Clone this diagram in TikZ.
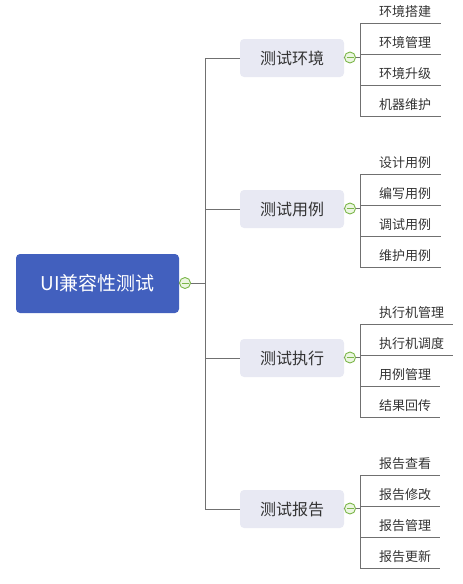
\documentclass[tikz,border=0pt]{standalone}
\usepackage{fontspec}
\setmainfont{Noto Sans CJK SC}
\definecolor{rootblue}{RGB}{66,96,190}
\definecolor{subfill}{RGB}{232,233,243}
\definecolor{linegray}{RGB}{112,112,112}
\definecolor{txt}{RGB}{51,51,51}
\definecolor{knobline}{RGB}{122,182,72}
\definecolor{knobfill}{RGB}{236,246,226}
\tikzset{
  rootbox/.style={fill=rootblue, rounded corners=4pt, text=white, font=\fontsize{19}{21}\selectfont,
    minimum width=163pt, minimum height=59pt, inner sep=0pt},
  subbox/.style={fill=subfill, rounded corners=4pt, text=txt, font=\fontsize{16}{18}\selectfont,
    minimum width=104pt, minimum height=38pt, inner sep=0pt},
  leaf/.style={anchor=south west, text=txt, font=\fontsize{13}{15}\selectfont,
    minimum height=22pt, inner sep=0pt},
  knob/.style={circle, draw=knobline, fill=knobfill, line width=0.9pt, minimum size=11pt, inner sep=0pt,
    path picture={\draw[knobline, line width=0.9pt] ([xshift=-3.5pt]path picture bounding box.center) -- ([xshift=3.5pt]path picture bounding box.center);}},
  conn/.style={draw=linegray, line width=0.8pt},
}
\newcommand{\leaftext}[2]{\makebox[#1pt][l]{\hspace{19pt}#2}}
\begin{document}
\begin{tikzpicture}[x=1pt,y=-1pt]
\useasboundingbox (0,0) rectangle (463,584);
% root
\node[rootbox] (root) at (97.5,283.5) {UI兼容性测试};
\node[knob] (rk) at (185,283) {};
\coordinate (trunk) at (205,283);
% level 1
\node[subbox] (s1) at (292,58) {测试环境};
\node[subbox] (s2) at (292,209) {测试用例};
\node[subbox] (s3) at (292,358) {测试执行};
\node[subbox] (s4) at (292,509) {测试报告};
\node[knob] (k1) at (350,57.5) {};
\node[knob] (k2) at (350,208.5) {};
\node[knob] (k3) at (350,357.5) {};
\node[knob] (k4) at (350,508.5) {};
% trunk connectors
\draw[conn] (root.east) -- (rk.west);
\draw[conn] (rk.east) -- (trunk);
\draw[conn] (trunk |- s1.west) -- (trunk |- s4.west);
\foreach \s in {s1,s2,s3,s4} {\draw[conn] (trunk |- \s.west) -- (\s.west);}
\draw[conn] (s1.east) -- (k1.west);
\draw[conn] (s2.east) -- (k2.west);
\draw[conn] (s3.east) -- (k3.west);
\draw[conn] (s4.east) -- (k4.west);
% leaves group 1
\node[leaf] (a1) at (360,23) {\leaftext{81}{环境搭建}};
\node[leaf] (a2) at (360,54) {\leaftext{81}{环境管理}};
\node[leaf] (a3) at (360,85) {\leaftext{81}{环境升级}};
\node[leaf] (a4) at (360,116) {\leaftext{81}{机器维护}};
% leaves group 2
\node[leaf] (b1) at (360,174) {\leaftext{81}{设计用例}};
\node[leaf] (b2) at (360,205) {\leaftext{81}{编写用例}};
\node[leaf] (b3) at (360,236) {\leaftext{81}{调试用例}};
\node[leaf] (b4) at (360,267) {\leaftext{81}{维护用例}};
% leaves group 3
\node[leaf] (c1) at (360,324) {\leaftext{93}{执行机管理}};
\node[leaf] (c2) at (360,355) {\leaftext{93}{执行机调度}};
\node[leaf] (c3) at (360,386) {\leaftext{80}{用例管理}};
\node[leaf] (c4) at (360,417) {\leaftext{80}{结果回传}};
% leaves group 4
\node[leaf] (d1) at (360,475) {\leaftext{80}{报告查看}};
\node[leaf] (d2) at (360,506) {\leaftext{80}{报告修改}};
\node[leaf] (d3) at (360,537) {\leaftext{80}{报告管理}};
\node[leaf] (d4) at (360,568) {\leaftext{80}{报告更新}};
% leaf connectors
\foreach \k/\g in {k1/a,k2/b,k3/c,k4/d} {
  \draw[conn] (\k.east) -- (\k.east -| \g1.south west);
  \draw[conn] (\g1.south west) -- (\g4.south west);
  \foreach \i in {1,2,3,4} {\draw[conn] (\g\i.south west) -- (\g\i.south east);}
}
\end{tikzpicture}
\end{document}
